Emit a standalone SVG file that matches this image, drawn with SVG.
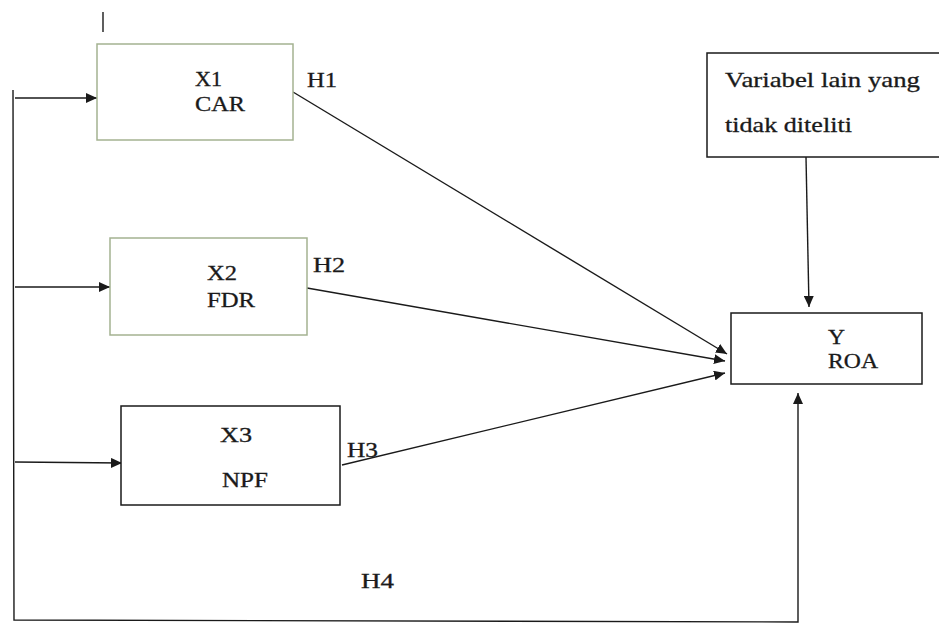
<svg xmlns="http://www.w3.org/2000/svg" width="939" height="625" viewBox="0 0 939 625">
<defs>
<marker id="ah" markerUnits="userSpaceOnUse" markerWidth="12" markerHeight="10" refX="11" refY="5" orient="auto">
<path d="M0,0 L11,5 L0,10 Z" fill="#1a1a1a"/>
</marker>
<style>
.box{fill:#fff;stroke:#1a1a1a;stroke-width:1.5}
.gbox{fill:#fff;stroke:#a4b291;stroke-width:1.5}
.ln{fill:none;stroke:#1a1a1a;stroke-width:1.4}
text{font-family:'Liberation Serif','Times New Roman',serif;fill:#1a1a1a;stroke:#1a1a1a;stroke-width:0.3}
.t{font-size:20px}
.tv{font-size:22px}
</style>
</defs>
<rect width="939" height="625" fill="#fff"/>
<line x1="103" y1="12" x2="103" y2="32" class="ln"/>
<g id="connectors">
<polyline points="13,90 14,620 798,622 798,393" class="ln" marker-end="url(#ah)"/>
<line x1="15" y1="98" x2="97" y2="98" class="ln" marker-end="url(#ah)"/>
<line x1="15" y1="287" x2="110" y2="287" class="ln" marker-end="url(#ah)"/>
<line x1="15" y1="462" x2="122" y2="463" class="ln" marker-end="url(#ah)"/>
<line x1="293" y1="92" x2="727" y2="354" class="ln" marker-end="url(#ah)"/>
<line x1="307" y1="288" x2="725" y2="361" class="ln" marker-end="url(#ah)"/>
<line x1="342" y1="465" x2="725" y2="373" class="ln" marker-end="url(#ah)"/>
<line x1="806" y1="157" x2="809" y2="307" class="ln" marker-end="url(#ah)"/>
<text x="307" y="87" class="t" textLength="30" lengthAdjust="spacingAndGlyphs">H1</text>
<text x="313" y="272" class="t" textLength="32" lengthAdjust="spacingAndGlyphs">H2</text>
<text x="347" y="457" class="t" textLength="31" lengthAdjust="spacingAndGlyphs">H3</text>
<text x="361" y="588" class="t" textLength="33" lengthAdjust="spacingAndGlyphs">H4</text>
</g>
<g id="x1">
<rect x="97" y="44" width="196" height="96" class="gbox"/>
<text x="195" y="86" class="t" textLength="27" lengthAdjust="spacingAndGlyphs">X1</text>
<text x="195" y="111" class="t" textLength="50" lengthAdjust="spacingAndGlyphs">CAR</text>
</g>
<g id="x2">
<rect x="110" y="238" width="197" height="97" class="gbox"/>
<text x="207" y="280" class="t" textLength="30" lengthAdjust="spacingAndGlyphs">X2</text>
<text x="207" y="307" class="t" textLength="48" lengthAdjust="spacingAndGlyphs">FDR</text>
</g>
<g id="x3">
<rect x="121" y="406" width="219" height="99" class="box"/>
<text x="220" y="442" class="t" textLength="32" lengthAdjust="spacingAndGlyphs">X3</text>
<text x="222" y="487" class="t" textLength="46" lengthAdjust="spacingAndGlyphs">NPF</text>
</g>
<g id="y">
<rect x="731" y="313" width="191" height="71" class="box"/>
<text x="828" y="344" class="t" textLength="17" lengthAdjust="spacingAndGlyphs">Y</text>
<text x="828" y="368" class="t" textLength="50" lengthAdjust="spacingAndGlyphs">ROA</text>
</g>
<g id="other">
<rect x="707" y="53" width="240" height="104" class="box"/>
<text x="725" y="87" class="tv" textLength="195" lengthAdjust="spacingAndGlyphs">Variabel lain yang</text>
<text x="725" y="132" class="tv" textLength="127" lengthAdjust="spacingAndGlyphs">tidak diteliti</text>
</g>
</svg>
